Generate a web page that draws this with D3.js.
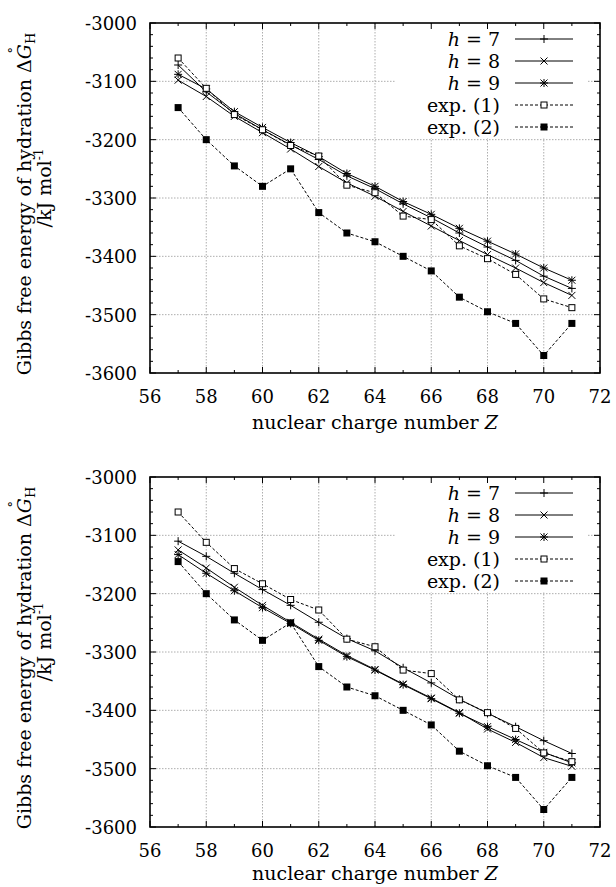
<!DOCTYPE html>
<html>
<head>
<meta charset="utf-8">
<script src="https://cdn.jsdelivr.net/npm/d3@7"></script>
<style>
  body { margin: 0; background: #fff; }
</style>
</head>
<body>
<div id="chart"></div>
<script>
// nuclear charge numbers
const Z = [57, 58, 59, 60, 61, 62, 63, 64, 65, 66, 67, 68, 69, 70, 71];

// upper panel
const topH7 = [-3072, -3118, -3155, -3183, -3209, -3234, -3262, -3284, -3310, -3334, -3360, -3384, -3407, -3434, -3455];
const topH8 = [-3098, -3126, -3160, -3188, -3216, -3246, -3274, -3297, -3323, -3348, -3373, -3397, -3420, -3445, -3467];
const topH9 = [-3088, -3113, -3152, -3179, -3205, -3229, -3258, -3280, -3306, -3328, -3352, -3374, -3396, -3420, -3441];

// lower panel
const botH7 = [-3110, -3136, -3165, -3193, -3220, -3249, -3277, -3298, -3327, -3353, -3381, -3405, -3428, -3452, -3474];
const botH8 = [-3125, -3156, -3189, -3220, -3249, -3278, -3306, -3330, -3355, -3379, -3404, -3432, -3455, -3481, -3496];
const botH9 = [-3133, -3165, -3195, -3224, -3251, -3280, -3308, -3331, -3356, -3380, -3405, -3428, -3450, -3472, -3490];

// experimental values (same in both panels)
const exp1 = [-3060, -3112, -3157, -3183, -3210, -3228, -3278, -3291, -3331, -3337, -3382, -3404, -3431, -3473, -3488];
const exp2 = [-3145, -3200, -3245, -3280, -3250, -3325, -3360, -3375, -3400, -3425, -3470, -3495, -3515, -3570, -3515];

const xTicks = [56, 58, 60, 62, 64, 66, 68, 70, 72];
const xMinor = [57, 59, 61, 63, 65, 67, 69, 71];
const yTicks = [-3000, -3100, -3200, -3300, -3400, -3500, -3600];
const yMinor = d3.range(-3580, -3000, 20).filter(v => v % 100 != 0);

const legendNames = ["= 7", "= 8", "= 9", "exp. (1)", "exp. (2)"];

const FONT = "'DejaVu Serif', 'Liberation Serif', serif";
const W = 616, H = 887;
const margin = { left: 150, right: 16 };
const plotH = 350;

const svg = d3.select("#chart").append("svg")
  .attr("width", W).attr("height", H)
  .style("font-family", FONT);
svg.append("rect").attr("width", W).attr("height", H).attr("fill", "#fff");

function txt(g, x, y, str, size, opts) {
  opts = opts || {};
  return g.append("text").attr("x", x).attr("y", y)
    .style("font-family", FONT).style("font-size", size + "px")
    .style("font-style", opts.italic ? "italic" : "normal")
    .attr("text-anchor", opts.anchor || "start")
    .attr("fill", "#000").text(str);
}

function marker(g, kind, x, y) {
  let s;
  if (kind == "plus") {
    s = 4;
    g.append("path").attr("d", `M${x - s},${y}H${x + s}M${x},${y - s}V${y + s}`)
      .attr("stroke", "#000").attr("stroke-width", 1).attr("fill", "none");
  } else if (kind == "cross") {
    s = 3.5;
    g.append("path").attr("d", `M${x - s},${y - s}L${x + s},${y + s}M${x - s},${y + s}L${x + s},${y - s}`)
      .attr("stroke", "#000").attr("stroke-width", 1).attr("fill", "none");
  } else if (kind == "star") {
    s = 3.5;
    g.append("path").attr("d", `M${x - s},${y - s}L${x + s},${y + s}M${x - s},${y + s}L${x + s},${y - s}M${x - 4},${y}H${x + 4}M${x},${y - 4}V${y + 4}`)
      .attr("stroke", "#000").attr("stroke-width", 1).attr("fill", "none");
  } else if (kind == "open") {
    s = 3;
    g.append("rect").attr("x", x - s).attr("y", y - s).attr("width", 2 * s).attr("height", 2 * s)
      .attr("fill", "#fff").attr("stroke", "#000").attr("stroke-width", 1);
  } else {
    s = 3.5;
    g.append("rect").attr("x", x - s).attr("y", y - s).attr("width", 2 * s).attr("height", 2 * s)
      .attr("fill", "#000");
  }
}

function panel(top, h7, h8, h9, titleGap) {
  const x = d3.scaleLinear().domain([56, 72]).range([margin.left, W - margin.right]);
  const y = d3.scaleLinear().domain([-3600, -3000]).range([top + plotH, top]);
  const g = svg.append("g");

  // grid
  g.selectAll(".vg").data(xTicks.slice(1, -1)).enter().append("line")
    .attr("x1", d => x(d)).attr("x2", d => x(d)).attr("y1", top).attr("y2", top + plotH)
    .attr("stroke", "#999").attr("stroke-width", 0.8).attr("stroke-dasharray", "1.5,1.5");
  g.selectAll(".hg").data(yTicks.slice(1, -1)).enter().append("line")
    .attr("x1", x(56)).attr("x2", x(72)).attr("y1", d => y(d)).attr("y2", d => y(d))
    .attr("stroke", "#999").attr("stroke-width", 0.8).attr("stroke-dasharray", "1.5,1.5");

  // legend background
  g.append("rect").attr("x", 395).attr("y", top + 1).attr("width", 192).attr("height", 114).attr("fill", "#fff");

  const series = [
    { vals: h7, mk: "plus", dash: null },
    { vals: h8, mk: "cross", dash: null },
    { vals: h9, mk: "star", dash: null },
    { vals: exp1, mk: "open", dash: "3,2" },
    { vals: exp2, mk: "filled", dash: "3,2" }
  ];

  const line = d3.line().x(d => x(d[0])).y(d => y(d[1]));
  series.forEach(s => {
    const pts = Z.map((z, i) => [z, s.vals[i]]);
    g.append("path").attr("d", line(pts)).attr("fill", "none")
      .attr("stroke", "#000").attr("stroke-width", 1)
      .attr("stroke-dasharray", s.dash);
    pts.forEach(p => marker(g, s.mk, x(p[0]), y(p[1])));
  });

  // ticks
  const tk = g.append("g").attr("stroke", "#000").attr("stroke-width", 1);
  xTicks.concat(xMinor).forEach(v => {
    const l = xMinor.includes(v) ? 3 : 6;
    tk.append("line").attr("x1", x(v)).attr("x2", x(v)).attr("y1", top + plotH).attr("y2", top + plotH - l);
    tk.append("line").attr("x1", x(v)).attr("x2", x(v)).attr("y1", top).attr("y2", top + l);
  });
  yTicks.concat(yMinor).forEach(v => {
    const l = yMinor.includes(v) ? 3 : 6;
    tk.append("line").attr("y1", y(v)).attr("y2", y(v)).attr("x1", x(56)).attr("x2", x(56) + l);
    tk.append("line").attr("y1", y(v)).attr("y2", y(v)).attr("x1", x(72)).attr("x2", x(72) - l);
  });

  // frame
  g.append("rect").attr("x", x(56)).attr("y", top).attr("width", x(72) - x(56)).attr("height", plotH)
    .attr("fill", "none").attr("stroke", "#000").attr("stroke-width", 1.6);

  // tick labels
  xTicks.forEach(d => txt(g, x(d), top + plotH + 30, d, 18, { anchor: "middle" }));
  yTicks.forEach(d => txt(g, x(56) - 13, y(d) + 7, d, 18, { anchor: "end" }));

  // x axis title
  const xs = txt(g, 0, top + plotH + titleGap, "nuclear charge number", 19);
  const zt = txt(g, 0, top + plotH + titleGap, "Z", 19, { italic: true });
  const w1 = xs.node().getComputedTextLength() + 6, w2 = zt.node().getComputedTextLength();
  const xc = (x(56) + x(72)) / 2;
  xs.attr("x", xc - (w1 + w2) / 2);
  zt.attr("x", xc - (w1 + w2) / 2 + w1);

  // y axis title (rotated, two lines)
  const cy = top + plotH / 2;
  const r1 = g.append("g").attr("transform", `translate(31,${cy + 6}) rotate(-90)`);
  const a = txt(r1, 0, 0, "Gibbs free energy of hydration \u0394", 19);
  const gG = txt(r1, 0, 0, "G", 19, { italic: true });
  const ring = txt(r1, 0, -13, "\u00b0", 13);
  const sub = txt(r1, 0, 4, "H", 13);
  const wa = a.node().getComputedTextLength(), wg = gG.node().getComputedTextLength();
  const wh = sub.node().getComputedTextLength();
  const tot = wa + wg + wh;
  a.attr("x", -tot / 2);
  gG.attr("x", -tot / 2 + wa);
  ring.attr("x", -tot / 2 + wa + wg * 0.6).attr("text-anchor", "middle");
  sub.attr("x", -tot / 2 + wa + wg);

  const r2 = g.append("g").attr("transform", `translate(51,${cy - 10}) rotate(-90)`);
  const b = txt(r2, 0, 0, "/kJ mol", 19);
  const sup = txt(r2, 0, -8, "-1", 12);
  const wb = b.node().getComputedTextLength(), ws = sup.node().getComputedTextLength();
  b.attr("x", -(wb + ws) / 2);
  sup.attr("x", -(wb + ws) / 2 + wb);

  // legend
  series.forEach((s, i) => {
    const ly = top + 16 + i * 22;
    const t = txt(g, 500, ly + 7, legendNames[i], 19, { anchor: "end" });
    if (i < 3) {
      const tw = t.node().getComputedTextLength();
      txt(g, 500 - tw - 6, ly + 7, "h", 19, { italic: true, anchor: "end" });
    }
    g.append("line").attr("x1", 515).attr("x2", 573).attr("y1", ly).attr("y2", ly)
      .attr("stroke", "#000").attr("stroke-width", 1).attr("stroke-dasharray", s.dash);
    marker(g, s.mk, 544, ly);
  });
}

panel(23, topH7, topH8, topH9, 56);
panel(477, botH7, botH8, botH9, 53);
</script>
</body>
</html>
